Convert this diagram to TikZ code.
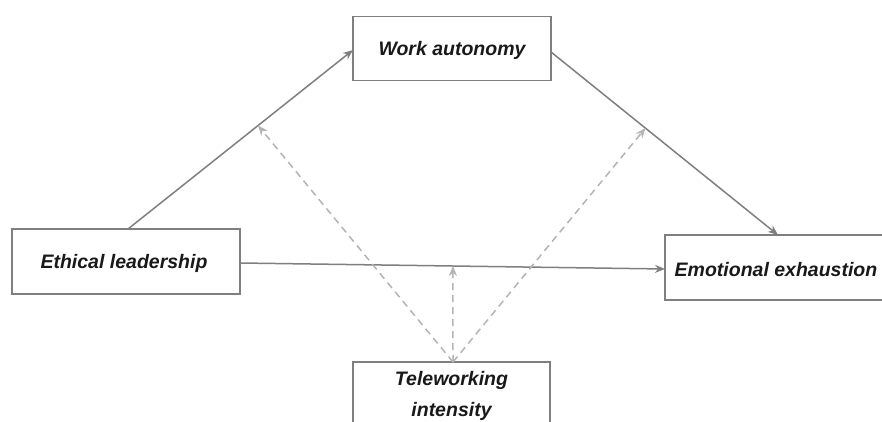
\documentclass[tikz,border=0pt]{standalone}
\usepackage{fontspec}
\setmainfont{Liberation Sans}
\usetikzlibrary{arrows.meta,calc}
\definecolor{lineg}{HTML}{7F7F7F}
\definecolor{dashg}{HTML}{B4B4B4}
\tikzset{
  box/.style={draw=lineg, line width=1.6pt, fill=white, inner sep=0pt},
  lbl/.style={font=\fontsize{19.5}{31}\selectfont\bfseries\itshape, text=black!90, align=center},
  conn/.style={draw=lineg, line width=1.5pt, -{Stealth[length=10pt,width=8pt]}},
  mod/.style={draw=dashg, line width=1.5pt, dash pattern=on 7pt off 5pt, -{Stealth[length=10pt,width=8pt]}}
}
\begin{document}
\begin{tikzpicture}[x=1pt,y=-1pt]
\useasboundingbox (0,0) rectangle (882,422);
\clip (0,0) rectangle (882,422);
\fill[white] (0,0) rectangle (882,422);
\node[box, minimum width=198pt, minimum height=64pt] (wa) at (452,48.5) {};
\node[lbl] (wat) at (452,50) {Work autonomy};
\node[box, minimum width=228pt, minimum height=65pt] (el) at (126,261.5) {};
\node[lbl] (elt) at (124,263) {Ethical leadership};
\node[box, minimum width=228pt, minimum height=65pt] (ee) at (779,267.5) {};
\node[lbl] (eet) at (776,270) {Emotional exhaustion};
\node[box, minimum width=197pt, minimum height=80pt] (tw) at (451.5,402) {};
\node[lbl] (twt) at (451.5,396) {Teleworking\\intensity};
\coordinate (elN) at (128,229);
\coordinate (waW) at (353,50);
\coordinate (waE) at (551,52);
\coordinate (eeN) at (778,235);
\coordinate (elE) at (240,263);
\coordinate (eeW) at (665,269);
\coordinate (twN) at (453,362);
\draw[conn] (elN) -- (waW);
\draw[conn] (waE) -- (eeN);
\draw[conn] (elE) -- (eeW);
\coordinate (m1) at ($(elN)!0.578!(waW)$);
\coordinate (m2) at ($(waE)!0.416!(eeN)$);
\coordinate (m3) at ($(elE)!0.501!(eeW)$);
\draw[mod] (twN) -- (m1);
\draw[mod] (twN) -- (m2);
\draw[mod] (twN) -- (m3);
\end{tikzpicture}
\end{document}
